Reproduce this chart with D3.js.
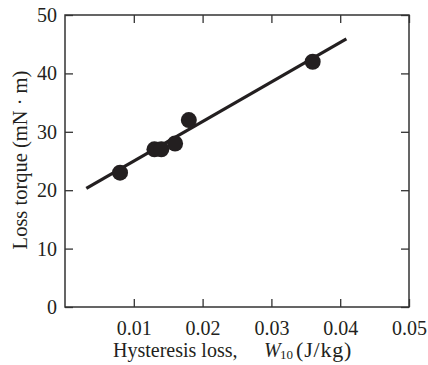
<!DOCTYPE html>
<html>
<head>
<meta charset="utf-8">
<script src="https://cdn.jsdelivr.net/npm/d3@7"></script>
<style>
  body { margin: 0; background: #fff; }
  svg { display: block; }
</style>
</head>
<body>
<div id="chart"></div>
<script>
// measured points
const hystLoss = [0.008, 0.013, 0.014, 0.016, 0.018, 0.036];
const lossTorque = [23, 27, 27, 28, 32, 42];
// fitted line end points
const fitX = [0.0031, 0.0409];
const fitY = [20.3, 45.9];
const xTicks = [0.01, 0.02, 0.03, 0.04, 0.05];
const yTicks = [0, 10, 20, 30, 40, 50];

const width = 428;
const height = 365;
const marginTop = 15;
const marginRight = 19;
const marginBottom = 58;
const marginLeft = 65;
const ink = "#231f20";
const serif = "Liberation Serif, Times New Roman, serif";

const x = d3.scaleLinear()
    .domain([0, 0.05])
    .range([marginLeft, width - marginRight]);

const y = d3.scaleLinear()
    .domain([0, 50])
    .range([height - marginBottom, marginTop]);

const svg = d3.select("#chart").append("svg")
    .attr("width", width)
    .attr("height", height)
    .attr("viewBox", [0, 0, width, height])
    .attr("font-family", serif);

// frame
svg.append("rect")
    .attr("x", x(0))
    .attr("y", y(50))
    .attr("width", x(0.05) - x(0))
    .attr("height", y(0) - y(50))
    .attr("fill", "none")
    .attr("stroke", "#333")
    .attr("stroke-width", 1.5);

const tickLen = 8;

// bottom axis, ticks pointing in
svg.append("g")
    .attr("transform", `translate(0,${y(0)})`)
    .call(d3.axisBottom(x).tickValues(xTicks).tickSize(-tickLen).tickPadding(14)
        .tickFormat(d3.format(".2f")))
    .attr("font-family", serif)
    .call(g => g.select(".domain").remove())
    .call(g => g.selectAll(".tick line").attr("stroke", "#333").attr("stroke-width", 1.3))
    .call(g => g.selectAll(".tick text").attr("font-size", 20).attr("fill", ink));

// top ticks
svg.append("g")
    .attr("transform", `translate(0,${y(50)})`)
    .call(d3.axisTop(x).tickValues(xTicks).tickSize(-tickLen).tickFormat(""))
    .call(g => g.select(".domain").remove())
    .call(g => g.selectAll(".tick line").attr("stroke", "#333").attr("stroke-width", 1.3));

// left axis
svg.append("g")
    .attr("transform", `translate(${x(0)},0)`)
    .call(d3.axisLeft(y).tickValues(yTicks).tickSize(-tickLen).tickPadding(8))
    .attr("font-family", serif)
    .call(g => g.select(".domain").remove())
    .call(g => g.selectAll(".tick line").attr("stroke", "#333").attr("stroke-width", 1.3))
    .call(g => g.selectAll(".tick text").attr("font-size", 20).attr("fill", ink));

// right ticks
svg.append("g")
    .attr("transform", `translate(${x(0.05)},0)`)
    .call(d3.axisRight(y).tickValues(yTicks).tickSize(-tickLen).tickFormat(""))
    .call(g => g.select(".domain").remove())
    .call(g => g.selectAll(".tick line").attr("stroke", "#333").attr("stroke-width", 1.3));

// fit line
svg.append("path")
    .datum(d3.zip(fitX, fitY))
    .attr("fill", "none")
    .attr("stroke", ink)
    .attr("stroke-width", 3.2)
    .attr("d", d3.line().x(d => x(d[0])).y(d => y(d[1])));

// points
svg.append("g")
    .attr("fill", ink)
    .selectAll("circle")
    .data(d3.zip(hystLoss, lossTorque))
    .join("circle")
    .attr("cx", d => x(d[0]))
    .attr("cy", d => y(d[1]))
    .attr("r", 8);

// x title
const xt = svg.append("text")
    .attr("y", 357)
    .attr("font-size", 20)
    .attr("fill", ink);
xt.append("tspan").attr("x", 113).text("Hysteresis loss,");
xt.append("tspan").attr("x", 264).attr("font-style", "italic").text("W");
xt.append("tspan").attr("x", 280).attr("font-size", 13).attr("dy", 2).text("10");
xt.append("tspan").attr("x", 296).attr("dy", -2).attr("font-size", 22)
    .attr("letter-spacing", 0.8).text("(J/kg)");

// y title
svg.append("text")
    .attr("transform", `translate(27,${(y(0) + y(50)) / 2 - 1}) rotate(-90)`)
    .attr("text-anchor", "middle")
    .attr("font-size", 20.5)
    .attr("fill", ink)
    .text("Loss torque (mN \u00b7 m)");
</script>
</body>
</html>
